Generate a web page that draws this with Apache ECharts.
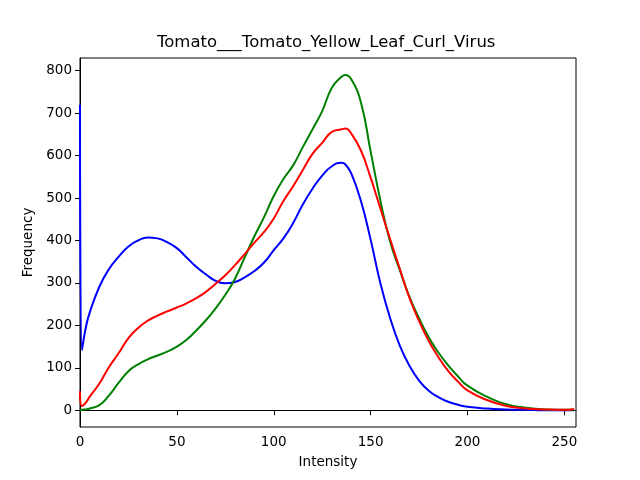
<!DOCTYPE html>
<html>
<head>
<meta charset="utf-8">
<script src="https://cdn.jsdelivr.net/npm/echarts@6/dist/echarts.min.js"></script>
<style>
  html, body { margin: 0; padding: 0; background: #fff; }
  #chart { width: 640px; height: 480px; }
</style>
</head>
<body>
<div id="chart"></div>
<script>
var intensity = [0, 1, 3, 5, 10, 15, 20, 25, 30, 35, 40, 45, 50, 55, 60, 65, 70, 75, 80, 85,
  90, 95, 100, 105, 110, 115, 120, 125, 130, 135, 137, 140, 145, 150, 155, 160, 165, 170, 175,
  180, 185, 190, 195, 200, 210, 220, 230, 240, 250, 255];

var blueFreq = [720, 142, 195, 230, 291, 333, 362, 386, 400, 407, 405, 396, 382, 360, 338, 320,
  305, 299, 302, 313, 328, 348, 377, 405, 441, 485, 522, 553, 575, 583, 579, 558, 493, 402, 300,
  218, 153, 105, 70, 46, 31, 20, 13, 8, 4, 2, 1, 0, 0, 0];

var greenFreq = [0, 1, 2, 4, 12, 35, 65, 92, 108, 120, 129, 138, 150, 166, 188, 212, 240, 272,
  310, 360, 410, 455, 505, 545, 577, 620, 662, 705, 760, 786, 790, 780, 725, 610, 495, 398, 331,
  268, 217, 172, 136, 106, 80, 58, 32, 14, 6, 2, 1, 1];

var redFreq = [45, 10, 18, 32, 63, 102, 135, 170, 194, 211, 223, 233, 242, 252, 264, 279, 298,
  318, 342, 368, 395, 420, 452, 493, 528, 566, 604, 630, 656, 662, 664, 652, 612, 548, 476, 404,
  334, 265, 210, 163, 125, 93, 68, 47, 24, 10, 4, 2, 1, 3];

var xTicks = [0, 50, 100, 150, 200, 250];
var yTicks = [0, 100, 200, 300, 400, 500, 600, 700, 800];

function pairs(ys) {
  var out = [];
  for (var i = 0; i < intensity.length; i++) {
    out.push([intensity[i], ys[i]]);
  }
  return out;
}

var chart = echarts.init(document.getElementById('chart'), null, { renderer: 'canvas' });

var font = 'DejaVu Sans';
function lineSeries(name, color, ys) {
  return {
    name: name,
    type: 'line',
    data: pairs(ys),
    smooth: 0.5,
    showSymbol: false,
    symbol: 'none',
    lineStyle: { color: color, width: 2 },
    itemStyle: { color: color },
    animation: false
  };
}

chart.setOption({
  backgroundColor: '#fff',
  animation: false,
  title: {
    text: 'Tomato___Tomato_Yellow_Leaf_Curl_Virus',
    left: 157,
    top: 34,
    padding: 0,
    textStyle: { fontFamily: font, fontSize: 16.5, fontWeight: 'normal', color: '#000' }
  },
  grid: {
    left: 80, top: 58, width: 496, height: 369,
    show: true, borderColor: '#000', borderWidth: 1, backgroundColor: 'transparent'
  },
  xAxis: {
    type: 'value',
    min: 0,
    max: 256,
    name: 'Intensity',
    nameLocation: 'middle',
    nameGap: 28,
    nameTextStyle: { fontFamily: font, fontSize: 13.5, color: '#000' },
    axisLine: { show: true, lineStyle: { color: '#000', width: 1 } },
    axisTick: { show: true, inside: false, length: 5, lineStyle: { color: '#000' }, customValues: xTicks },
    axisLabel: { fontFamily: font, fontSize: 13.5, color: '#000', margin: 8, customValues: xTicks },
    splitLine: { show: false }
  },
  yAxis: {
    type: 'value',
    min: -39.5,
    max: 830,
    name: 'Frequency',
    nameLocation: 'middle',
    nameGap: 43,
    nameRotate: 90,
    nameTextStyle: { fontFamily: font, fontSize: 13.5, color: '#000' },
    axisLine: { show: true, lineStyle: { color: '#000', width: 1 } },
    axisTick: { show: true, inside: false, length: 5, lineStyle: { color: '#000' }, customValues: yTicks },
    axisLabel: { fontFamily: font, fontSize: 13.5, color: '#000', margin: 8, customValues: yTicks },
    splitLine: { show: false }
  },
  series: [
    lineSeries('b', '#0000ff', blueFreq),
    lineSeries('g', '#008000', greenFreq),
    lineSeries('r', '#ff0000', redFreq)
  ]
});
</script>
</body>
</html>
